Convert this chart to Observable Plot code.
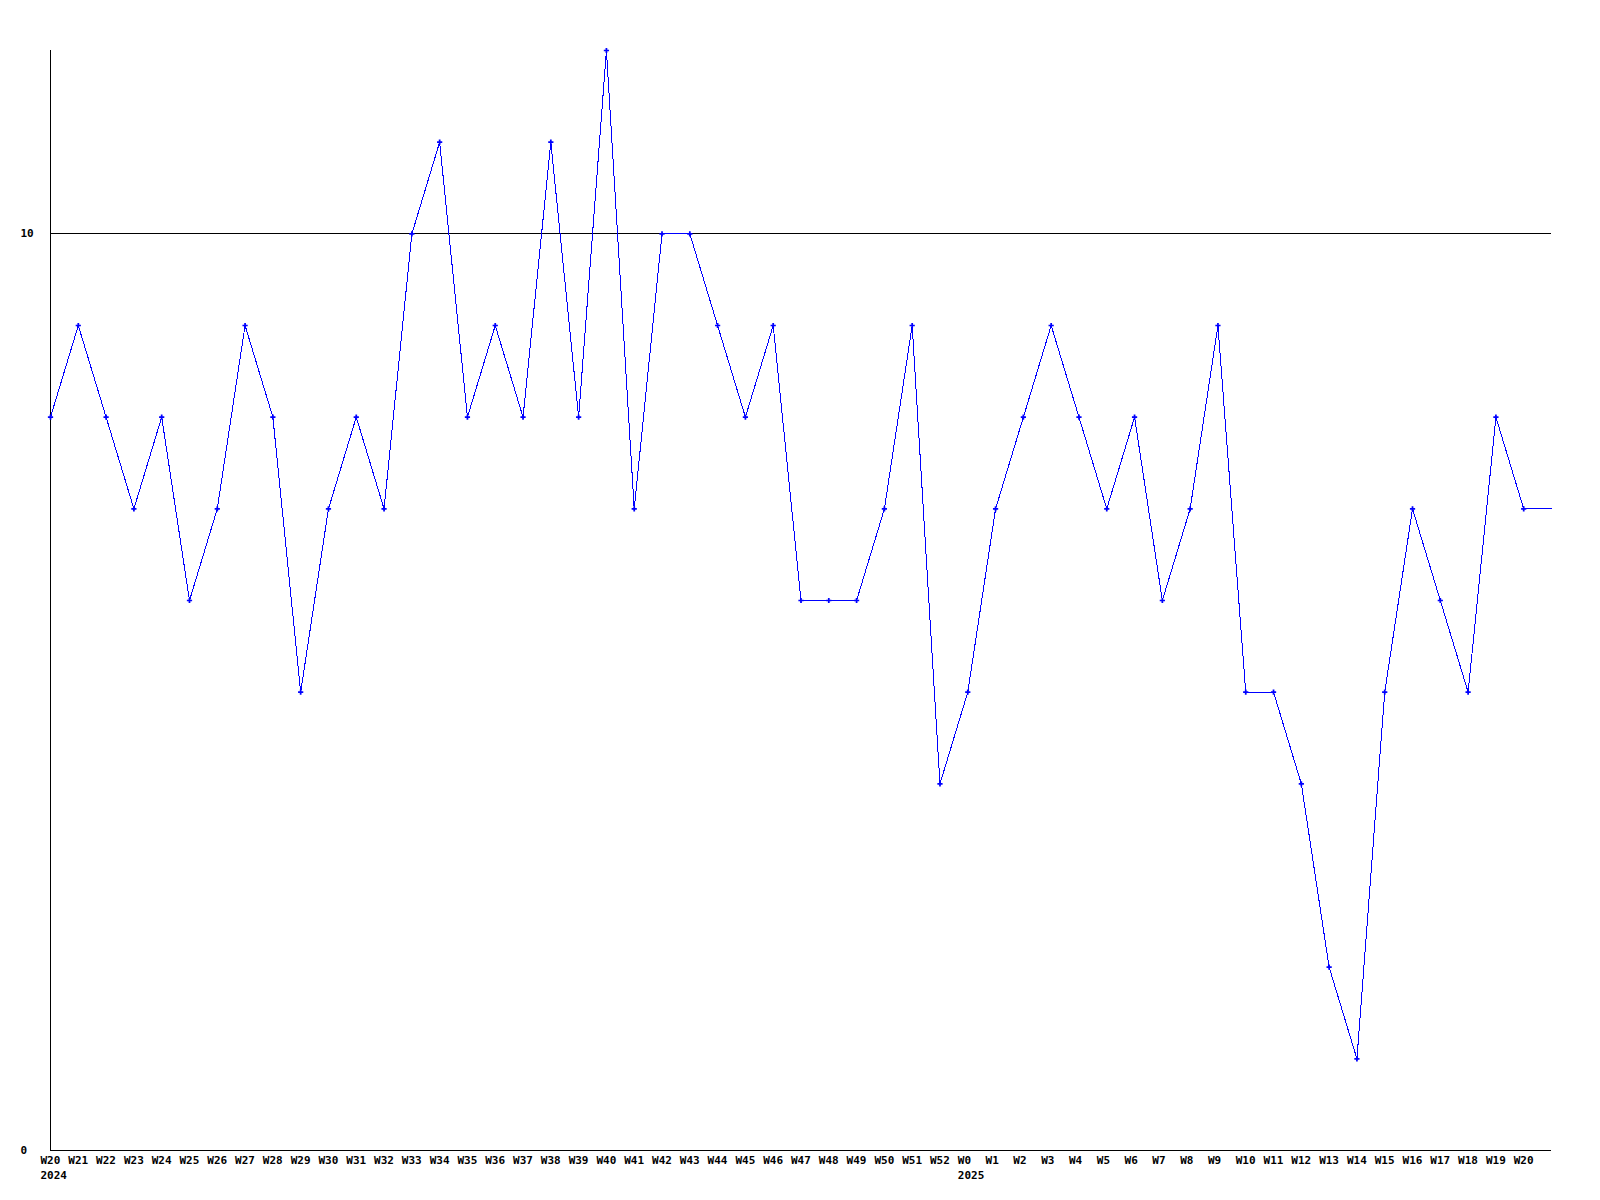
<!DOCTYPE html>
<html>
<head>
<meta charset="utf-8">
<script src="https://cdn.jsdelivr.net/npm/d3@7"></script>
<script src="https://cdn.jsdelivr.net/npm/@observablehq/plot@0.6"></script>
<style>
  html, body { margin: 0; padding: 0; background: #fff; }
</style>
</head>
<body>
<div id="chart"></div>
<script>
const weeks = ["W20","W21","W22","W23","W24","W25","W26","W27","W28","W29","W30","W31","W32","W33","W34","W35","W36","W37","W38","W39","W40","W41","W42","W43","W44","W45","W46","W47","W48","W49","W50","W51","W52","W0","W1","W2","W3","W4","W5","W6","W7","W8","W9","W10","W11","W12","W13","W14","W15","W16","W17","W18","W19","W20"];
const values = [8,9,8,7,8,6,7,9,8,5,7,8,7,10,11,8,9,8,11,8,12,7,10,10,9,8,9,6,6,6,7,9,4,5,7,8,9,8,7,8,6,7,9,5,5,4,2,1,5,7,6,5,8,7];
const tailValue = 7; // line continues to the right edge
const yearLabels = [{week: 0, label: "2024"}, {week: 33, label: "2025"}];
const yTicks = [0, 10];
const refLine = [10];

const points = values.map((v, i) => ({i, v}));
const lineData = points.concat([{i: values.length, v: tailValue}]);

const font = "'DejaVu Sans Mono', monospace";
const chart = Plot.plot({
  width: 1600,
  height: 1200,
  marginLeft: 50,
  marginRight: 49,
  marginTop: 50,
  marginBottom: 50,
  style: {fontFamily: font, fontSize: "11px", fontWeight: "bold", background: "#fff"},
  x: {domain: [0, values.length], axis: null},
  y: {domain: [0, 12], axis: null},
  marks: [
    Plot.ruleY(refLine, {stroke: "black", strokeWidth: 1, shapeRendering: "crispEdges"}),
    Plot.ruleX([0], {stroke: "black", strokeWidth: 1, shapeRendering: "crispEdges"}),
    Plot.ruleY([0], {stroke: "black", strokeWidth: 1, shapeRendering: "crispEdges"}),
    Plot.line(lineData, {x: "i", y: "v", stroke: "#0000ff", strokeWidth: 1, curve: "linear", shapeRendering: "crispEdges"}),
    Plot.dot(points, {x: "i", y: "v", symbol: "cross", r: 2.2, fill: "#0000ff", stroke: "none"}),
    Plot.text(weeks, {x: (d, i) => i, text: d => d, frameAnchor: "bottom", dy: 13, dx: -10, textAnchor: "start", fill: "black"}),
    Plot.text(yearLabels, {x: "week", text: "label", frameAnchor: "bottom", dy: 28, dx: -10, textAnchor: "start", fill: "black"}),
    Plot.text(yTicks, {y: d => d, text: d => String(d), frameAnchor: "left", dx: -30, textAnchor: "start", fill: "black"})
  ]
});
document.getElementById("chart").appendChild(chart);
</script>
</body>
</html>
